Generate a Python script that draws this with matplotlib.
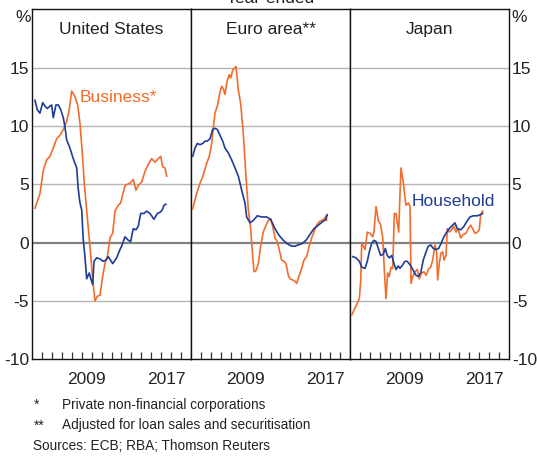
import matplotlib
matplotlib.use("Agg")
import matplotlib.pyplot as plt

plt.rcParams['font.family'] = ['Liberation Sans', 'DejaVu Sans']
plt.rcParams['axes.unicode_minus'] = False

# United States
us_bus_x = [2004.30, 2004.80, 2005.14, 2005.48, 2005.81, 2006.14, 2006.48, 2006.82, 2007.15, 2007.49,
            2007.75, 2007.99, 2008.33, 2008.60, 2008.83, 2009.06, 2009.26, 2009.50, 2009.83, 2010.11,
            2010.34, 2010.57, 2010.84, 2011.11, 2011.34, 2011.58, 2011.85, 2012.12, 2012.35, 2012.68,
            2012.92, 2013.36, 2013.86, 2014.19, 2014.46, 2014.69, 2015.04, 2015.37, 2015.70, 2016.04,
            2016.37, 2016.71, 2016.95, 2017.15, 2017.38, 2017.55]
us_bus_y = [2.95, 4.2, 6.2, 7.1, 7.4, 8.1, 8.9, 9.2, 9.7, 10.4,
            11.4, 13.0, 12.5, 11.8, 10.2, 7.7, 5.1, 2.8, -0.3, -3.2,
            -5.0, -4.6, -4.5, -2.9, -1.8, -1.2, 0.4, 0.8, 2.7, 3.2,
            3.4, 4.9, 5.1, 5.4, 4.5, 4.9, 5.2, 6.1, 6.7, 7.2,
            6.9, 7.2, 7.4, 6.5, 6.4, 5.7]
us_hh_x = [2004.30, 2004.53, 2004.80, 2005.08, 2005.31, 2005.54, 2005.81, 2005.98, 2006.14, 2006.41,
           2006.65, 2006.89, 2007.15, 2007.32, 2007.49, 2007.82, 2008.15, 2008.50, 2008.63, 2008.75,
           2008.83, 2009.00, 2009.16, 2009.33, 2009.50, 2009.76, 2009.91, 2010.11, 2010.24, 2010.51,
           2010.84, 2011.17, 2011.44, 2011.68, 2012.12, 2012.52, 2012.85, 2013.02, 2013.36, 2013.69,
           2013.93, 2014.19, 2014.46, 2014.69, 2014.94, 2015.27, 2015.54, 2015.87, 2016.27, 2016.61,
           2016.88, 2017.11, 2017.28, 2017.48]
us_hh_y = [12.2, 11.4, 11.1, 12.0, 11.7, 11.5, 11.7, 11.8, 10.7, 11.8,
           11.8, 11.4, 10.7, 9.9, 8.8, 8.1, 7.2, 6.4, 4.8, 3.9,
           3.4, 2.8, 0.2, -1.2, -3.1, -2.6, -3.1, -3.6, -1.6, -1.3,
           -1.4, -1.6, -1.5, -1.2, -1.8, -1.3, -0.6, -0.3, 0.5, 0.2,
           0.1, 1.2, 1.1, 1.4, 2.5, 2.5, 2.7, 2.5, 2.0, 2.5,
           2.6, 2.8, 3.2, 3.3]

# Euro area
eu_bus_x = [2004.17, 2004.57, 2004.91, 2005.24, 2005.58, 2005.84, 2006.08, 2006.41, 2006.65, 2006.92,
            2007.09, 2007.25, 2007.42, 2007.65, 2007.85, 2007.99, 2008.20, 2008.53, 2008.76, 2009.00,
            2009.26, 2009.53, 2009.76, 2010.01, 2010.21, 2010.34, 2010.54, 2010.77, 2011.01, 2011.27,
            2011.55, 2011.78, 2012.02, 2012.22, 2012.45, 2012.68, 2012.88, 2013.12, 2013.36, 2013.56,
            2013.79, 2013.96, 2014.23, 2014.46, 2014.63, 2014.90, 2015.14, 2015.37, 2015.64, 2015.90,
            2016.14, 2016.37, 2016.65, 2016.91, 2017.15, 2017.38, 2017.58, 2017.64]
eu_bus_y = [2.9, 4.2, 5.1, 5.8, 6.8, 7.4, 8.5, 11.1, 11.7, 12.9,
            13.4, 13.2, 12.7, 13.9, 14.4, 14.1, 14.8, 15.1, 13.1, 11.9,
            9.4, 5.7, 2.9, 1.1, -1.2, -2.5, -2.4, -1.8, -0.3, 0.9,
            1.5, 1.9, 2.0, 1.4, 0.4, 0.1, -0.6, -1.5, -1.6, -1.8,
            -2.8, -3.1, -3.2, -3.3, -3.5, -2.8, -2.2, -1.5, -1.2, -0.3,
            0.4, 0.9, 1.5, 1.8, 1.9, 2.0, 2.3, 1.9]
eu_hh_x = [2004.17, 2004.40, 2004.63, 2004.91, 2005.18, 2005.41, 2005.64, 2005.91, 2006.18, 2006.41,
           2006.65, 2006.92, 2007.19, 2007.42, 2007.75, 2008.09, 2008.43, 2008.76, 2009.10, 2009.43,
           2009.60, 2009.94, 2010.27, 2010.67, 2011.11, 2011.62, 2012.02, 2012.45, 2012.88, 2013.29,
           2013.69, 2014.13, 2014.46, 2014.79, 2015.14, 2015.57, 2015.97, 2016.37, 2016.81, 2017.25,
           2017.58, 2017.71]
eu_hh_y = [7.4, 8.1, 8.5, 8.4, 8.5, 8.7, 8.7, 8.9, 9.7, 9.8,
           9.7, 9.2, 8.7, 8.1, 7.7, 7.1, 6.4, 5.7, 4.5, 3.4,
           2.2, 1.7, 1.9, 2.3, 2.2, 2.2, 2.0, 1.2, 0.6, 0.2,
           -0.1, -0.3, -0.3, -0.2, -0.1, 0.2, 0.7, 1.2, 1.5, 1.8,
           2.0, 2.4]

# Japan
jp_bus_x = [2004.17, 2004.40, 2004.67, 2004.94, 2005.08, 2005.18, 2005.34, 2005.51, 2005.74, 2006.01,
            2006.28, 2006.41, 2006.62, 2006.85, 2007.09, 2007.29, 2007.45, 2007.62, 2007.79, 2007.95,
            2008.12, 2008.30, 2008.46, 2008.63, 2008.76, 2008.90, 2009.03, 2009.13, 2009.36, 2009.53,
            2009.63, 2009.87, 2010.04, 2010.14, 2010.31, 2010.54, 2010.77, 2010.97, 2011.21, 2011.44,
            2011.65, 2011.88, 2012.12, 2012.32, 2012.55, 2012.72, 2012.82, 2012.98, 2013.15, 2013.33,
            2013.46, 2013.66, 2013.79, 2013.99, 2014.23, 2014.46, 2014.67, 2014.87, 2015.14, 2015.40,
            2015.67, 2015.90, 2016.14, 2016.34, 2016.58, 2016.81, 2017.01, 2017.15, 2017.35]
jp_bus_y = [-6.2, -5.8, -5.3, -4.8, -3.2, -0.05, -0.3, -0.6, 0.9, 0.8,
            0.5, 0.9, 3.1, 1.9, 1.5, 0.5, -2.3, -4.8, -2.6, -2.9,
            -2.1, -2.2, 2.5, 2.5, 1.7, 0.9, 4.2, 6.4, 5.2, 3.9,
            3.2, 3.4, 3.1, -3.5, -2.9, -2.5, -2.3, -3.1, -2.6, -2.5,
            -2.8, -2.3, -2.1, -1.5, -0.2, -0.8, -3.2, -1.8, -0.9, -0.8,
            -1.5, -1.1, 1.2, 0.9, 1.1, 1.4, 0.9, 1.2, 0.4, 0.7,
            0.8, 1.2, 1.5, 1.2, 0.8, 0.9, 1.1, 2.4, 2.7]
jp_hh_x = [2004.27, 2004.60, 2004.94, 2005.18, 2005.51, 2005.74, 2005.94, 2006.18, 2006.41, 2006.62,
           2006.85, 2007.09, 2007.35, 2007.55, 2007.75, 2007.95, 2008.20, 2008.43, 2008.63, 2008.86,
           2009.03, 2009.30, 2009.53, 2009.76, 2010.04, 2010.31, 2010.64, 2010.87, 2011.11, 2011.37,
           2011.65, 2011.88, 2012.12, 2012.38, 2012.65, 2012.92, 2013.15, 2013.39, 2013.66, 2013.99,
           2014.33, 2014.56, 2014.79, 2015.14, 2015.47, 2015.74, 2016.07, 2016.40, 2016.81, 2017.15,
           2017.35]
jp_hh_y = [-1.2, -1.3, -1.6, -2.1, -2.2, -1.6, -0.8, -0.05, 0.2, 0.1,
           -0.5, -1.1, -1.0, -0.5, -1.1, -1.3, -1.1, -1.8, -2.3, -2.0,
           -2.2, -1.9, -1.6, -1.6, -1.9, -2.3, -2.8, -2.9, -2.6, -1.5,
           -0.8, -0.3, -0.2, -0.5, -0.6, -0.5, -0.1, 0.4, 0.8, 1.2,
           1.5, 1.7, 1.2, 1.1, 1.4, 1.8, 2.2, 2.3, 2.3, 2.4,
           2.5]

panel_titles = ['United States', 'Euro area**', 'Japan']
year_labels = ['2009', '2017']
yticks = [-10, -5, 0, 5, 10, 15]

orange = '#f26c2c'
blue = '#1f3c96'

W, H = 537, 457
fig = plt.figure(figsize=(W / 100, H / 100), dpi=100)

left, right, top, bottom = 32 / W, 509 / W, 1 - 9.3 / H, 1 - 359.3 / H
pw = (right - left) / 3

series = [(us_bus_x, us_bus_y, us_hh_x, us_hh_y),
          (eu_bus_x, eu_bus_y, eu_hh_x, eu_hh_y),
          (jp_bus_x, jp_bus_y, jp_hh_x, jp_hh_y)]

axes = []
for i, (bx, by, hx, hy) in enumerate(series):
    ax = fig.add_axes([left + i * pw, bottom, pw, top - bottom])
    axes.append(ax)
    ax.set_xlim(2004, 2020)
    ax.set_ylim(-10, 20)
    for g in [-5, 5, 10, 15]:
        ax.axhline(g, color='#b4b4b4', lw=1.0, zorder=1)
    ax.axhline(0, color='#808080', lw=1.6, zorder=1)
    ax.plot(bx, by, color=orange, lw=1.2, zorder=3)
    ax.plot(hx, hy, color=blue, lw=1.2, zorder=3)

    # yearly ticks, year labels centred in the year
    ax.set_xticks(range(2005, 2020))
    ax.set_xticklabels([])
    ax.set_xticks([2009.5, 2017.5], minor=True)
    ax.set_xticklabels(year_labels, minor=True, fontsize=12.5, color='#222222')
    ax.tick_params(axis='x', which='major', direction='in', length=5, width=0.9, color='#333333')
    ax.tick_params(axis='x', which='minor', length=0, pad=9)

    ax.set_yticks(yticks)
    ax.tick_params(axis='y', length=0, labelsize=12.5, labelcolor='#222222', pad=2)
    if i == 0:
        ax.set_yticklabels([str(t) for t in yticks])
    elif i == 2:
        ax.yaxis.tick_right()
        ax.set_yticklabels([str(t) for t in yticks])
    else:
        ax.set_yticklabels([])

    for s in ax.spines.values():
        s.set_color('#111111')
        s.set_linewidth(1.0)

    ax.text(0.5, 0.943, panel_titles[i], transform=ax.transAxes, ha='center', va='center',
            fontsize=12.5, color='#222222')

axes[0].text(2008.75, 12.4, 'Business*', color=orange, fontsize=12.5, va='center')
axes[2].text(2010.2, 3.5, 'Household', color=blue, fontsize=12.5, va='center')

fig.text(23 / W, 1 - 18 / H, '%', ha='center', va='center', fontsize=12.5, color='#222222')
fig.text(519 / W, 1 - 18 / H, '%', ha='center', va='center', fontsize=12.5, color='#222222')
fig.text(0.5 * (left + right), 1 - 3 / H, 'Year-ended', ha='center', va='baseline',
         fontsize=12.5, color='#222222')

notes = [('*', 'Private non-financial corporations'),
         ('**', 'Adjusted for loan sales and securitisation')]
for k, (mark, txt) in enumerate(notes):
    y = 1 - (405 + 20.5 * k) / H
    fig.text(34 / W, y, mark, fontsize=9.8, va='center', color='#222222')
    fig.text(62 / W, y, txt, fontsize=9.8, va='center', color='#222222')
fig.text(33 / W, 1 - 446 / H, 'Sources: ECB; RBA; Thomson Reuters', fontsize=9.8, va='center',
         color='#222222')

fig.savefig('out.png', dpi=100)
